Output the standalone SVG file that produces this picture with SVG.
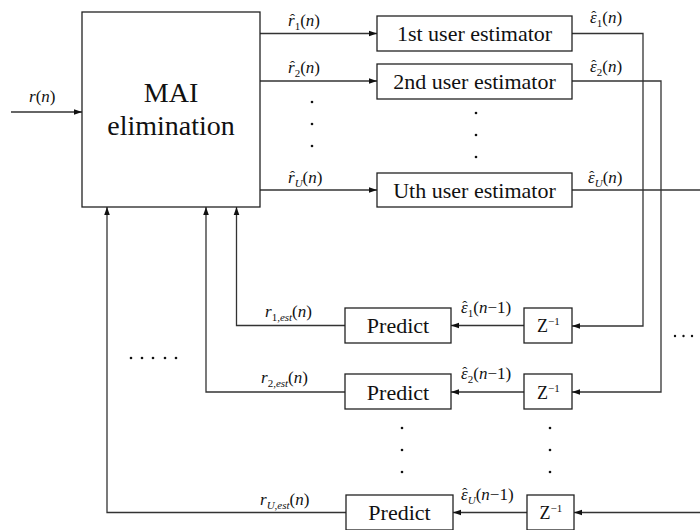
<svg xmlns="http://www.w3.org/2000/svg" width="700" height="530" viewBox="0 0 700 530">
  <style>
    .box { fill: #fff; stroke: #222; stroke-width: 1.3; }
    .wire { fill: none; stroke: #333; stroke-width: 1.3; }
    text { font-family: "Liberation Serif", "Times New Roman", Times, serif; fill: #111; }
    .big { font-size: 28px; text-anchor: middle; }
    .blk { font-size: 22px; text-anchor: middle; }
    .m { font-size: 17px; }
    .hc { font-size: 15px; font-style: normal; }
    .i { font-style: italic; }
    .sub { font-size: 11px; }
    .dot { fill: #111; }
  </style>
  <defs>
    <marker id="ah" viewBox="0 0 10 10" refX="10" refY="5" markerWidth="8" markerHeight="8" markerUnits="userSpaceOnUse" orient="auto">
      <path d="M0,1.5 L10,5 L0,8.5 z" fill="#111"/>
    </marker>
  </defs>

  <rect width="700" height="530" fill="#fff"/>

  <!-- connectors -->
  <g id="connectors">
    <path class="wire" d="M11,112 H82" marker-end="url(#ah)"/>
    <path class="wire" d="M260,33.5 H377" marker-end="url(#ah)"/>
    <path class="wire" d="M260,81 H377" marker-end="url(#ah)"/>
    <path class="wire" d="M260,190 H377" marker-end="url(#ah)"/>
    <path class="wire" d="M572,33.5 H643 V326 H572" marker-end="url(#ah)"/>
    <path class="wire" d="M572,81 H661 V392 H572" marker-end="url(#ah)"/>
    <path class="wire" d="M572,190 H700"/>
    <path class="wire" d="M700,512.5 H574" marker-end="url(#ah)"/>
    <path class="wire" d="M524,325.5 H451" marker-end="url(#ah)"/>
    <path class="wire" d="M524,392 H451" marker-end="url(#ah)"/>
    <path class="wire" d="M527,512.5 H453" marker-end="url(#ah)"/>
    <path class="wire" d="M345,325.5 H236.5 V207" marker-end="url(#ah)"/>
    <path class="wire" d="M345,392 H206 V207" marker-end="url(#ah)"/>
    <path class="wire" d="M346,512.5 H107 V207" marker-end="url(#ah)"/>
  </g>

  <!-- MAI elimination block -->
  <g id="mai">
    <rect class="box" x="82" y="12" width="178" height="195"/>
    <text class="big" x="171" y="102">MAI</text>
    <text class="big" x="171" y="135">elimination</text>
  </g>

  <!-- user estimators -->
  <g id="est1">
    <rect class="box" x="377" y="16" width="195" height="35"/>
    <text class="blk" x="474.5" y="41">1st user estimator</text>
  </g>
  <g id="est2">
    <rect class="box" x="377" y="64" width="195" height="35"/>
    <text class="blk" x="474.5" y="89">2nd user estimator</text>
  </g>
  <g id="estU">
    <rect class="box" x="377" y="173" width="195" height="34"/>
    <text class="blk" x="474.5" y="198">Uth user estimator</text>
  </g>

  <!-- delay blocks -->
  <g id="z1">
    <rect class="box" x="524" y="308" width="48" height="35"/>
    <text x="537" y="332" font-size="18">Z<tspan font-size="11" dy="-7">−1</tspan></text>
  </g>
  <g id="z2">
    <rect class="box" x="524" y="374" width="48" height="35"/>
    <text x="537" y="398.5" font-size="18">Z<tspan font-size="11" dy="-7">−1</tspan></text>
  </g>
  <g id="zU">
    <rect class="box" x="527" y="495" width="47" height="35"/>
    <text x="539.5" y="519" font-size="18">Z<tspan font-size="11" dy="-7">−1</tspan></text>
  </g>

  <!-- predictors -->
  <g id="pred1">
    <rect class="box" x="345" y="308" width="106" height="35"/>
    <text class="blk" x="398" y="333">Predict</text>
  </g>
  <g id="pred2">
    <rect class="box" x="345" y="374" width="106" height="35"/>
    <text class="blk" x="398" y="399.5">Predict</text>
  </g>
  <g id="predU">
    <rect class="box" x="346" y="495" width="107" height="35"/>
    <text class="blk" x="399.5" y="520">Predict</text>
  </g>

  <!-- signal labels (hats are placed back over the preceding letter) -->
  <g id="labels">
    <text class="m" x="29" y="102"><tspan class="i">r</tspan>(<tspan class="i">n</tspan>)</text>

    <text class="m" x="288" y="26"><tspan class="i">r</tspan><tspan class="hc" dx="-4.6" dy="-2">ˆ</tspan><tspan class="sub" dx="-0.4" dy="6">1</tspan><tspan dy="-4">(</tspan><tspan class="i">n</tspan>)</text>
    <text class="m" x="288" y="73"><tspan class="i">r</tspan><tspan class="hc" dx="-4.6" dy="-2">ˆ</tspan><tspan class="sub" dx="-0.4" dy="6">2</tspan><tspan dy="-4">(</tspan><tspan class="i">n</tspan>)</text>
    <text class="m" x="288" y="183"><tspan class="i">r</tspan><tspan class="hc" dx="-4.6" dy="-2">ˆ</tspan><tspan class="sub i" dx="-0.4" dy="6">U</tspan><tspan dy="-4">(</tspan><tspan class="i">n</tspan>)</text>

    <text class="m" x="590" y="23"><tspan class="i">ε</tspan><tspan class="hc" dx="-5.4" dy="-2">ˆ</tspan><tspan class="sub" dx="0.4" dy="6">1</tspan><tspan dy="-4">(</tspan><tspan class="i">n</tspan>)</text>
    <text class="m" x="590" y="72"><tspan class="i">ε</tspan><tspan class="hc" dx="-5.4" dy="-2">ˆ</tspan><tspan class="sub" dx="0.4" dy="6">2</tspan><tspan dy="-4">(</tspan><tspan class="i">n</tspan>)</text>
    <text class="m" x="588" y="183"><tspan class="i">ε</tspan><tspan class="hc" dx="-5.4" dy="-2">ˆ</tspan><tspan class="sub i" dx="0.4" dy="6">U</tspan><tspan dy="-4">(</tspan><tspan class="i">n</tspan>)</text>

    <text class="m" x="461" y="313"><tspan class="i">ε</tspan><tspan class="hc" dx="-5.4" dy="-2">ˆ</tspan><tspan class="sub" dx="0.4" dy="6">1</tspan><tspan dy="-4">(</tspan><tspan class="i">n</tspan>−1)</text>
    <text class="m" x="461" y="379"><tspan class="i">ε</tspan><tspan class="hc" dx="-5.4" dy="-2">ˆ</tspan><tspan class="sub" dx="0.4" dy="6">2</tspan><tspan dy="-4">(</tspan><tspan class="i">n</tspan>−1)</text>
    <text class="m" x="461" y="500"><tspan class="i">ε</tspan><tspan class="hc" dx="-5.4" dy="-2">ˆ</tspan><tspan class="sub i" dx="0.4" dy="6">U</tspan><tspan dy="-4">(</tspan><tspan class="i">n</tspan>−1)</text>

    <text class="m" x="265" y="317"><tspan class="i">r</tspan><tspan class="sub" dy="4">1,<tspan class="i">est</tspan></tspan><tspan dy="-4">(</tspan><tspan class="i">n</tspan>)</text>
    <text class="m" x="261" y="383"><tspan class="i">r</tspan><tspan class="sub" dy="4">2,<tspan class="i">est</tspan></tspan><tspan dy="-4">(</tspan><tspan class="i">n</tspan>)</text>
    <text class="m" x="260" y="505"><tspan class="i">r</tspan><tspan class="sub" dy="4"><tspan class="i">U</tspan>,<tspan class="i">est</tspan></tspan><tspan dy="-4">(</tspan><tspan class="i">n</tspan>)</text>
  </g>

  <!-- ellipsis dots -->
  <g id="dots" class="dot">
    <circle cx="312" cy="102" r="1.3"/><circle cx="312" cy="124" r="1.3"/><circle cx="312" cy="146" r="1.3"/>
    <circle cx="476" cy="113" r="1.3"/><circle cx="476" cy="135" r="1.3"/><circle cx="476" cy="157" r="1.3"/>
    <circle cx="402" cy="428" r="1.3"/><circle cx="402" cy="450" r="1.3"/><circle cx="402" cy="472" r="1.3"/>
    <circle cx="550" cy="428" r="1.3"/><circle cx="550" cy="450" r="1.3"/><circle cx="550" cy="472" r="1.3"/>
    <circle cx="131" cy="358" r="1.3"/><circle cx="142" cy="358" r="1.3"/><circle cx="153" cy="358" r="1.3"/><circle cx="165" cy="358" r="1.3"/><circle cx="176" cy="358" r="1.3"/>
    <circle cx="675" cy="336" r="1.2"/><circle cx="683.5" cy="336" r="1.2"/><circle cx="692" cy="336" r="1.2"/>
  </g>
</svg>
